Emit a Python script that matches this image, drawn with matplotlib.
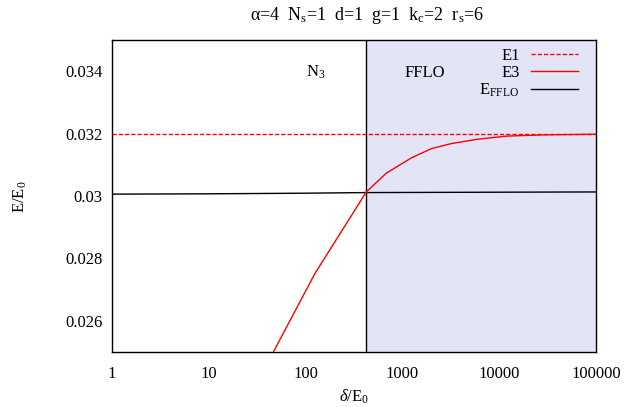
import numpy as np
import matplotlib.pyplot as plt

plt.rcParams['font.family'] = ['Liberation Serif', 'DejaVu Serif']
plt.rcParams['mathtext.fontset'] = 'custom'
plt.rcParams['mathtext.rm'] = 'Liberation Serif'
plt.rcParams['mathtext.it'] = 'Liberation Serif:italic'

# energies vs delta
delta_e3 = [30, 125, 340, 420, 680, 1250, 2000, 3200, 6000, 12000, 30000, 100000]
e3 = [0.02389, 0.02752, 0.02966, 0.03012, 0.03073, 0.03123, 0.03152,
      0.03168, 0.03182, 0.03192, 0.03196, 0.03198]

delta_e1 = [1, 100000]
e1 = [0.032, 0.032]

delta_fflo = [1, 10, 100, 420, 100000]
e_fflo = [0.03006, 0.03007, 0.03009, 0.03011, 0.03013]

delta_trans = 420
xticks = [1, 10, 100, 1000, 10000, 100000]
yticks = [0.026, 0.028, 0.03, 0.032, 0.034]
ytick_labels = ['0.026', '0.028', '0.03', '0.032', '0.034']

fs = 12

fig = plt.figure(figsize=(6.27, 4.07), dpi=100)
ax = fig.add_axes([112 / 627, 1 - 352 / 407, 484 / 627, 312 / 407])

ax.axvspan(delta_trans, 1e5, color='#e4e4f7', lw=0, zorder=0)
ax.axvline(delta_trans, color='black', lw=1.0, zorder=1)

ax.plot(delta_e1, e1, color='#ff0000', lw=1.0, dashes=(3, 1.5), label='E1', zorder=3)
ax.plot(delta_e3, e3, color='#ff0000', lw=1.0, label='E3', zorder=3)
ax.plot(delta_fflo, e_fflo, color='black', lw=1.0, label=r'E$_\mathrm{FFLO}$', zorder=2)

ax.set_xscale('log')
ax.set_xlim(1, 1e5)
ax.set_ylim(0.025, 0.035)
ax.set_xticks(xticks)
ax.set_xticklabels([str(v) for v in xticks])
ax.xaxis.set_minor_locator(plt.NullLocator())
ax.set_yticks(yticks)
ax.set_yticklabels(ytick_labels)
ax.tick_params(length=0, labelsize=fs)
ax.tick_params(axis='x', pad=10)
ax.tick_params(axis='y', pad=7)
for s in ax.spines.values():
    s.set_linewidth(1.0)

# phase labels
ax.text(128, 0.03398, r'N$_\mathrm{3}$', fontsize=fs, ha='center', va='center')
ax.text(1700, 0.03395, 'FFLO', fontsize=fs, ha='center', va='center')

fig.text(354 / 627, 1 - 397 / 407, r'$\delta$/E$_\mathrm{0}$', fontsize=fs, ha='center', va='center')
fig.text(20 / 627, 1 - 197 / 407, r'E/E$_\mathrm{0}$', fontsize=fs, ha='center', va='center', rotation=90)
fig.text(367 / 627, 1 - 16 / 407,
         r'α=4  N$_\mathrm{s}$=1  d=1  g=1  k$_\mathrm{c}$=2  r$_\mathrm{s}$=6',
         fontsize=13, ha='center', va='center')

ax.legend(loc='upper right', bbox_to_anchor=(578 / 627, 1 - 48 / 407),
          bbox_transform=fig.transFigure, frameon=False, markerfirst=False,
          fontsize=fs, handlelength=2.8, handletextpad=0.7, borderpad=0,
          borderaxespad=0, labelspacing=0.05)

fig.savefig('out.png', dpi=100)
